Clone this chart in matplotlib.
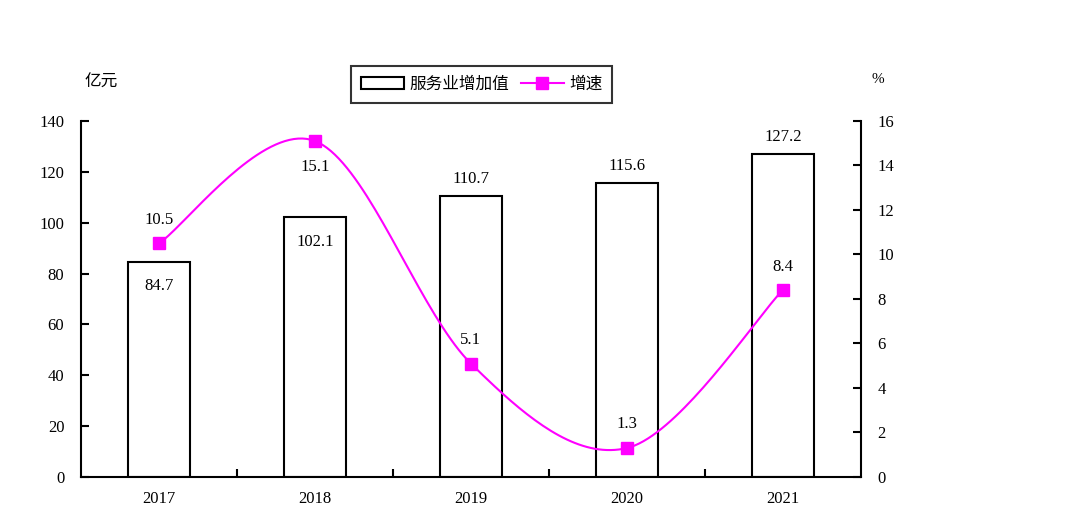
import numpy as np
import matplotlib
matplotlib.use("Agg")
import matplotlib.pyplot as plt
from matplotlib.lines import Line2D
from matplotlib.patches import Rectangle

# ── Data ──────────────────────────────────────────────────────────────────────
years        = ["2017", "2018", "2019", "2020", "2021"]
value_added  = [84.7, 102.1, 110.7, 115.6, 127.2]   # 亿元
growth       = [10.5, 15.1, 5.1, 1.3, 8.4]          # %
bar_lbl_in   = [True, True, False, False, False]     # value label inside bar top
line_lbl_up  = [True, False, True, True, True]

CJK   = ["Noto Sans CJK SC", "DejaVu Sans"]
NUM   = ["Liberation Serif", "DejaVu Serif"]
PINK  = "#ff00ff"


def smooth(xs, ys, n=40):
    """Excel-style smoothed line: cubic Bezier segments, tension 1/6."""
    xs = np.asarray(xs, float); ys = np.asarray(ys, float)
    px, py = [], []
    for i in range(len(xs) - 1):
        x0, y0 = xs[max(i - 1, 0)], ys[max(i - 1, 0)]
        x1, y1 = xs[i], ys[i]
        x2, y2 = xs[i + 1], ys[i + 1]
        x3, y3 = xs[min(i + 2, len(xs) - 1)], ys[min(i + 2, len(xs) - 1)]
        c1x, c1y = x1 + (x2 - x0) / 6, y1 + (y2 - y0) / 6
        c2x, c2y = x2 - (x3 - x1) / 6, y2 - (y3 - y1) / 6
        t = np.linspace(0, 1, n)
        px.append((1-t)**3*x1 + 3*(1-t)**2*t*c1x + 3*(1-t)*t**2*c2x + t**3*x2)
        py.append((1-t)**3*y1 + 3*(1-t)**2*t*c1y + 3*(1-t)*t**2*c2y + t**3*y2)
    return np.concatenate(px), np.concatenate(py)


fig = plt.figure(figsize=(10.8, 5.14), dpi=100)
ax = fig.add_axes([0.075, 0.072, 0.722, 0.6926])
ax2 = ax.twinx()

x = np.arange(len(years))
ax.bar(x, value_added, width=0.4, facecolor="white", edgecolor="black",
       linewidth=1.5, zorder=2)
for xi, v, inside in zip(x, value_added, bar_lbl_in):
    if inside:
        ax.text(xi, v - 6.5, f"{v:.1f}", ha="center", va="top",
                fontsize=12, family=NUM)
    else:
        ax.text(xi, v + 3.5, f"{v:.1f}", ha="center", va="bottom",
                fontsize=12, family=NUM)

sx, sy = smooth(x, growth)
ax2.plot(sx, sy, color=PINK, linewidth=1.5, zorder=3)
ax2.plot(x, growth, linestyle="none", marker="s", markersize=8,
         color=PINK, zorder=4)
for xi, g, up in zip(x, growth, line_lbl_up):
    if up:
        ax2.text(xi, g + 0.7, f"{g:.1f}", ha="center", va="bottom",
                 fontsize=12, family=NUM)
    else:
        ax2.text(xi, g - 0.8, f"{g:.1f}", ha="center", va="top",
                 fontsize=12, family=NUM)

ax.set_xlim(-0.5, len(years) - 0.5)
ax.set_ylim(0, 140)
ax.set_yticks(np.arange(0, 141, 20))
ax2.set_ylim(0, 16)
ax2.set_yticks(np.arange(0, 17, 2))

ax.set_xticks(x)
ax.set_xticklabels(years, family=NUM, fontsize=12)
ax.set_xticks(np.arange(0.5, len(years) - 0.5, 1), minor=True)
ax.tick_params(axis="x", which="major", length=0, pad=10)
ax.tick_params(axis="x", which="minor", direction="in", length=6, width=1.5)
ax.tick_params(axis="y", direction="in", length=6, width=1.5, pad=12,
               labelsize=12)
ax2.tick_params(axis="y", direction="in", length=6, width=1.5, pad=12,
                labelsize=12)
for lab in ax.get_yticklabels() + ax2.get_yticklabels():
    lab.set_family(NUM)

for a in (ax, ax2):
    a.spines["top"].set_visible(False)
    for s in ("left", "right", "bottom"):
        a.spines[s].set_linewidth(1.5)
ax.spines["right"].set_visible(False)
ax2.spines["left"].set_visible(False)
ax2.spines["bottom"].set_visible(False)

fig.text(0.094, 0.84, "亿元", ha="center", va="center",
         fontsize=12, family=CJK)
fig.text(0.813, 0.846, "%", ha="center", va="center",
         fontsize=11, family=NUM)

handles = [Rectangle((0, 0), 1, 1, facecolor="white", edgecolor="black",
                     linewidth=1.5),
           Line2D([], [], color=PINK, marker="s", markersize=8, linewidth=1.5)]
leg = fig.legend(handles, ["服务业增加值", "增速"], loc="center",
                 bbox_to_anchor=(0.446, 0.836), ncol=2, frameon=True,
                 fancybox=False, edgecolor="black", prop={"family": CJK,
                 "size": 12}, handlelength=2.6, handletextpad=0.3,
                 columnspacing=0.7, borderpad=0.6, borderaxespad=0)
leg.get_frame().set_linewidth(1.5)

fig.savefig("out.png", dpi=100)
